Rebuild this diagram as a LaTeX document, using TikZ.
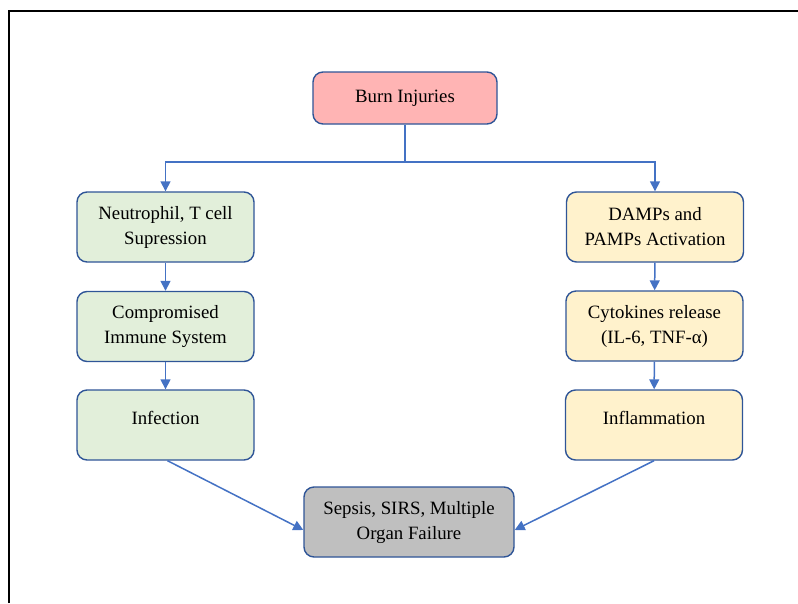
\documentclass[tikz,border=0pt]{standalone}
\usepackage{fontspec}
\setmainfont{Liberation Serif}
\usetikzlibrary{arrows.meta}
\definecolor{bordc}{RGB}{47,85,151}
\definecolor{arrc}{RGB}{68,114,196}
\definecolor{pinkf}{RGB}{255,180,180}
\definecolor{greenf}{RGB}{226,239,218}
\definecolor{yellf}{RGB}{255,242,204}
\definecolor{grayf}{RGB}{191,191,191}
\begin{document}
\begin{tikzpicture}[x=1pt,y=-1pt,
  box/.style={draw=bordc, line width=1.4pt, rounded corners=10pt, align=center,
    font=\fontsize{18.8}{25}\selectfont, inner sep=0pt},
  raised/.style={text height=13pt, text depth=15pt},
  conn/.style={draw=arrc, line width=1.5pt},
  arr/.style={conn, -{Triangle[length=10pt,width=10pt]}}]
\useasboundingbox (0,0) rectangle (798,603);
\draw[line width=2pt] (9,603) -- (9,11) -- (798,11);
\node[box, fill=pinkf, minimum width=184pt, minimum height=52pt] (burn) at (405,98) {Burn Injuries};
\node[box, fill=greenf, minimum width=177pt, minimum height=70pt] (neu) at (165.5,227) {Neutrophil, T cell\\Supression};
\node[box, fill=greenf, minimum width=177pt, minimum height=70pt] (comp) at (165.5,326.5) {Compromised\\Immune System};
\node[box, raised, fill=greenf, minimum width=177pt, minimum height=70pt] (inf) at (165.5,425) {Infection};
\node[box, fill=yellf, minimum width=177pt, minimum height=70pt] (damp) at (655,227) {DAMPs and\\PAMPs Activation};
\node[box, fill=yellf, minimum width=177pt, minimum height=70pt] (cyto) at (654.5,326) {Cytokines release\\(IL-6, TNF-α)};
\node[box, raised, fill=yellf, minimum width=177pt, minimum height=70pt] (infl) at (654,425) {Inflammation};
\node[box, fill=grayf, minimum width=210pt, minimum height=70pt] (sep) at (409,522) {Sepsis, SIRS, Multiple\\Organ Failure};
\coordinate (split) at (405,162);
\draw[conn] (burn.south) -- (split);
\draw[arr] (split) -| (neu.north);
\draw[arr] (split) -| (damp.north);
\draw[arr] (neu) -- (comp);
\draw[arr] (comp) -- (inf);
\draw[arr] (damp) -- (cyto);
\draw[arr] (cyto) -- (infl);
\draw[arr] ([xshift=2pt]inf.south) -- ([yshift=-8pt]sep.west);
\draw[arr] (infl.south) -- ([yshift=-8pt]sep.east);
\end{tikzpicture}
\end{document}
